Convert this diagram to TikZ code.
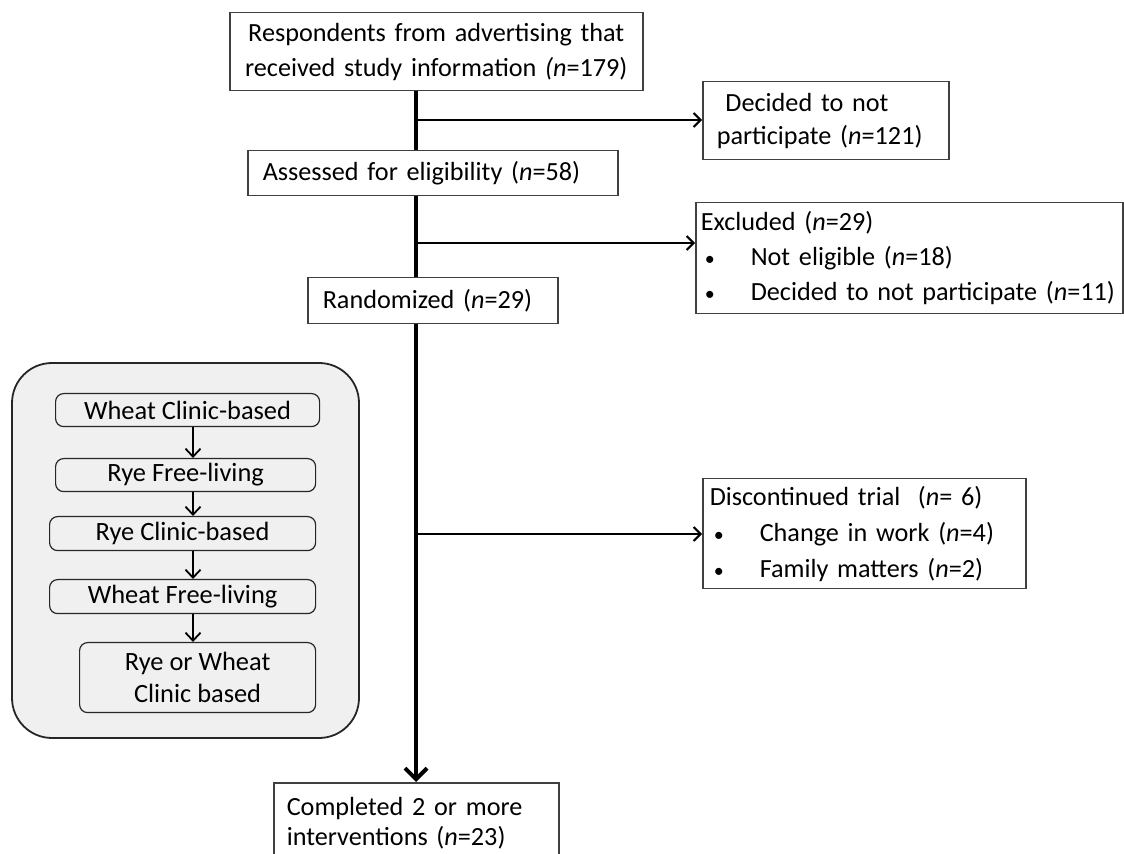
\documentclass[tikz,border=0pt]{standalone}
\usepackage{fontspec}
\setmainfont{Carlito}
\usetikzlibrary{arrows.meta}
\tikzstyle{box} = [draw=black!75, line width=0.75pt, anchor=north west, inner ysep=0pt, align=left, font=\fontsize{13.1}{16.5}\selectfont]
\tikzstyle{stage} = [draw=black!85, line width=0.6pt, rounded corners=4pt, anchor=north west, inner sep=0pt, align=center, font=\fontsize{13.2}{16}\selectfont]
\tikzstyle{arrow} = [line width=1pt, -{Straight Barb[length=3.5pt,width=7pt]}]
\tikzstyle{arrow_stage} = [line width=0.9pt, -{Straight Barb[length=4pt,width=7.5pt]}]
\tikzstyle{spine_line} = [line width=2pt]
\tikzstyle{spine_arrow} = [line width=2pt, -{Straight Barb[length=5.5pt,width=11pt]}]
\newcommand{\bul}{\makebox[25pt][l]{\hspace{2pt}{\fontsize{10}{10}\selectfont\textbullet}}}

\begin{document}
\begin{tikzpicture}[x=0.5pt, y=-0.5pt]
    \path[use as bounding box, clip] (0,0) rectangle (1124,854);

    \node (top) [box, at={(229,12)}, minimum width=206.5pt, minimum height=39pt, text width=206.5pt, inner xsep=0pt, align=center, font=\fontsize{13.1}{17.5}\selectfont] {Respondents from advertising that\\received study information \textit{(n}=179)};
    \node (decided) [box, at={(702,81)}, minimum width=123pt, minimum height=39pt, text width=109pt, inner xsep=7pt] {\ Decided to not\\participate (\textit{n}=121)};
    \node (assess) [box, at={(247,150)}, minimum width=185pt, minimum height=22.5pt, text width=170pt, inner xsep=7.5pt] {Assessed for eligibility (\textit{n}=58)};
    \node (excl) [box, at={(695,202)}, minimum width=213.5pt, minimum height=55.5pt, text width=208.5pt, inner xsep=2.5pt, font=\fontsize{13.1}{17.5}\selectfont] {Excluded (\textit{n}=29)\\\bul Not eligible (\textit{n}=18)\\\mbox{\bul Decided to not participate (\textit{n}=11)}};
    \node (rand) [box, at={(307,277)}, minimum width=125pt, minimum height=23pt, text width=110pt, inner xsep=7.5pt] {Randomized (\textit{n}=29)};
    \node (disc) [box, at={(702,478)}, minimum width=161.5pt, minimum height=55pt, text width=154.5pt, inner xsep=3.5pt, font=\fontsize{13.1}{18}\selectfont] {Discontinued trial\ \ (\textit{n}= 6)\\\bul Change in work (\textit{n}=4)\\\bul Family matters (\textit{n}=2)};
    \node (final) [box, at={(273,782)}, minimum width=142.5pt, minimum height=40pt, text width=129.5pt, inner xsep=6.5pt, font=\fontsize{13.1}{15}\selectfont] {Completed 2 or more\\interventions (\textit{n}=23)};

    \draw[draw=black!85, line width=0.9pt, fill=black!6, rounded corners=20pt] (12,363) rectangle (359,738);
    \node (wc) [stage, at={(55,393)}, minimum width=132pt, minimum height=16.5pt] {Wheat Clinic-based};
    \node (rf) [stage, at={(55,458)}, minimum width=130pt, minimum height=16.5pt] {Rye Free-living};
    \node (rc) [stage, at={(49,516)}, minimum width=133pt, minimum height=17pt] {Rye Clinic-based};
    \node (wf) [stage, at={(49,579)}, minimum width=133pt, minimum height=17pt] {Wheat Free-living};
    \node (rw) [stage, at={(79,642)}, minimum width=118pt, minimum height=35pt] {Rye or Wheat\\Clinic based};

    \coordinate (ax) at (193,0);
    \draw[arrow_stage] (wc.south -| ax) -- (rf.north -| ax);
    \draw[arrow_stage] (rf.south -| ax) -- (rc.north -| ax);
    \draw[arrow_stage] (rc.south -| ax) -- (wf.north -| ax);
    \draw[arrow_stage] (wf.south -| ax) -- (rw.north -| ax);

    \coordinate (spine) at (416,0);
    \draw[spine_line] (top.south -| spine) -- (assess.north -| spine);
    \draw[spine_line] (assess.south -| spine) -- (rand.north -| spine);
    \draw[spine_arrow] (rand.south -| spine) -- (final.north -| spine);

    \coordinate (b1) at (416,120);
    \coordinate (b2) at (416,243);
    \coordinate (b3) at (416,534);
    \draw[arrow] (b1) -- (decided.west |- b1);
    \draw[arrow] (b2) -- (excl.west |- b2);
    \draw[arrow] (b3) -- (disc.west |- b3);
\end{tikzpicture}
\end{document}
